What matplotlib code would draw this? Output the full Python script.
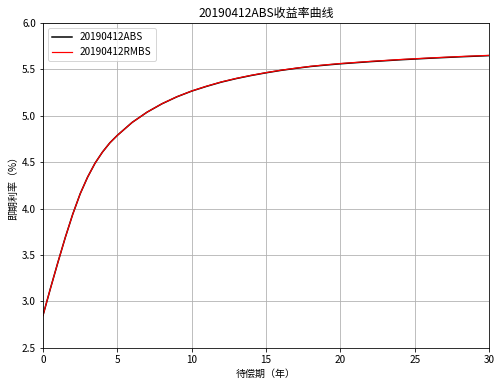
import matplotlib
matplotlib.use("Agg")
import matplotlib.pyplot as plt

plt.rcParams['font.family'] = ['Noto Sans CJK SC', 'DejaVu Sans']
plt.rcParams['axes.unicode_minus'] = False

# 待偿期 (年) and 即期利率 (%)
term = [0, 0.5, 1, 1.5, 2, 2.5, 3, 3.5, 4, 4.5, 5, 6, 7, 8, 9, 10,
        11, 12, 13, 14, 15, 16, 17, 18, 19, 20, 22, 24, 26, 28, 30]
abs_rate = [2.85, 3.14, 3.42, 3.69, 3.94, 4.16, 4.34, 4.49, 4.61, 4.71, 4.79,
            4.93, 5.04, 5.13, 5.205, 5.267, 5.318, 5.364, 5.402, 5.435,
            5.464, 5.49, 5.512, 5.532, 5.547, 5.561, 5.584, 5.604, 5.621,
            5.636, 5.649]
rmbs_rate = [2.85, 3.14, 3.42, 3.69, 3.94, 4.16, 4.34, 4.49, 4.61, 4.71, 4.79,
             4.93, 5.04, 5.131, 5.206, 5.268, 5.32, 5.366, 5.404, 5.437,
             5.466, 5.492, 5.514, 5.534, 5.55, 5.564, 5.587, 5.607, 5.624,
             5.639, 5.652]

fig = plt.figure(figsize=(501 / 72, 384 / 72), dpi=72)
ax = fig.add_axes([0.0858, 0.094, 0.8905, 0.846])

ax.plot(term, abs_rate, color='black', lw=1.5, label='20190412ABS')
ax.plot(term, rmbs_rate, color='red', lw=1.2, label='20190412RMBS')

ax.set_xlim(0, 30)
ax.set_ylim(2.5, 6.0)
ax.grid(True)
ax.set_title('20190412ABS收益率曲线')
ax.set_xlabel('待偿期（年）')
ax.set_ylabel('即期利率（%）')
ax.legend(loc='upper left')

fig.savefig('out.png', dpi=72)
